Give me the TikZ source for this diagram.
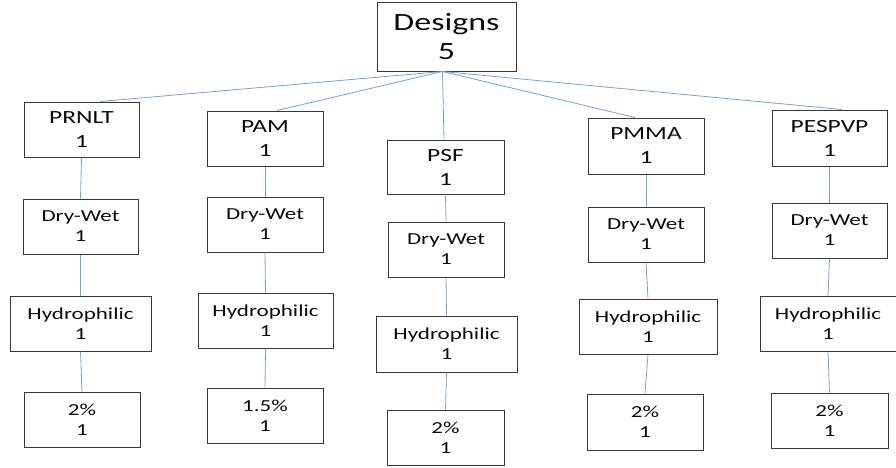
\documentclass[tikz,border=0pt]{standalone}
\usepackage{fontspec}
\setmainfont{Carlito}[FakeStretch=1.37]
\definecolor{linkblue}{RGB}{110,165,215}
\definecolor{boxline}{RGB}{55,55,55}
\definecolor{txt}{RGB}{10,10,10}
\begin{document}
\begin{tikzpicture}[x=1pt,y=-1pt,
  box/.style={draw=boxline, line width=1pt, fill=white, inner sep=0pt, align=center, text=txt, minimum width=116pt, minimum height=55pt},
  topbox/.style={box, font=\fontsize{24.8}{29}\selectfont, minimum width=139pt, minimum height=69pt},
  membox/.style={box, font=\fontsize{18.6}{24}\selectfont},
  subbox/.style={box, font=\fontsize{16.8}{20}\selectfont},
  link/.style={draw=linkblue, line width=0.8pt}]
\fill[white] (0,0) rectangle (896,467);
\useasboundingbox (0,0) rectangle (896,467);

\node[topbox] (designs) at (446.5,36.5) {Designs\\5};

\node[membox, minimum width=115pt] (prnlt) at (81.5,129.5) {PRNLT\\1};
\node[membox] (pam) at (265,138.5) {PAM\\1};
\node[membox, minimum width=117pt, minimum height=54pt] (psf) at (445.5,167) {PSF\\1};
\node[membox, minimum height=56pt] (pmma) at (646,146) {PMMA\\1};
\node[membox, minimum width=115pt, minimum height=56pt] (pespvp) at (829.5,138) {PESPVP\\1};

\node[subbox, minimum width=115pt] (dw1) at (80.5,226.5) {Dry-Wet\\1};
\node[subbox] (dw2) at (265,224.5) {Dry-Wet\\1};
\node[subbox] (dw3) at (446,249.5) {Dry-Wet\\1};
\node[subbox] (dw4) at (646,234.5) {Dry-Wet\\1};
\node[subbox, minimum width=115pt] (dw5) at (829.5,230.5) {Dry-Wet\\1};

\node[subbox, minimum width=141pt] (hy1) at (80.5,323.5) {Hydrophilic\\1};
\node[subbox, minimum width=135pt] (hy2) at (265.5,320.5) {Hydrophilic\\1};
\node[subbox, minimum width=141pt, minimum height=56pt] (hy3) at (446.5,344) {Hydrophilic\\1};
\node[subbox, minimum width=138pt] (hy4) at (648,326.5) {Hydrophilic\\1};
\node[subbox, minimum width=136pt] (hy5) at (828,323.5) {Hydrophilic\\1};

\node[subbox] (pc1) at (82,419.5) {2\%\\1};
\node[subbox] (pc2) at (265,415.5) {1.5\%\\1};
\node[subbox, minimum width=117pt] (pc3) at (445.5,437.5) {2\%\\1};
\node[subbox, minimum height=56pt] (pc4) at (645,422) {2\%\\1};
\node[subbox, minimum width=117pt] (pc5) at (829.5,420.5) {2\%\\1};

\draw[link] ([xshift=-4pt]designs.south) -- ([xshift=19pt]prnlt.north);
\draw[link] ([xshift=-4pt]designs.south) -- ([xshift=12pt]pam.north);
\draw[link] ([xshift=-4pt]designs.south) -- ([xshift=-1.5pt]psf.north);
\draw[link] ([xshift=-4pt]designs.south) -- ([xshift=-11pt]pmma.north);
\draw[link] ([xshift=-4pt]designs.south) -- ([xshift=12.5pt]pespvp.north);

\foreach \a/\b in {prnlt/dw1, pam/dw2, psf/dw3, pmma/dw4, pespvp/dw5,
                   dw1/hy1, dw2/hy2, dw3/hy3, dw4/hy4, dw5/hy5,
                   hy1/pc1, hy2/pc2, hy3/pc3, hy4/pc4, hy5/pc5}
  \draw[link] (\a.south) -- (\b.north);
\end{tikzpicture}
\end{document}
